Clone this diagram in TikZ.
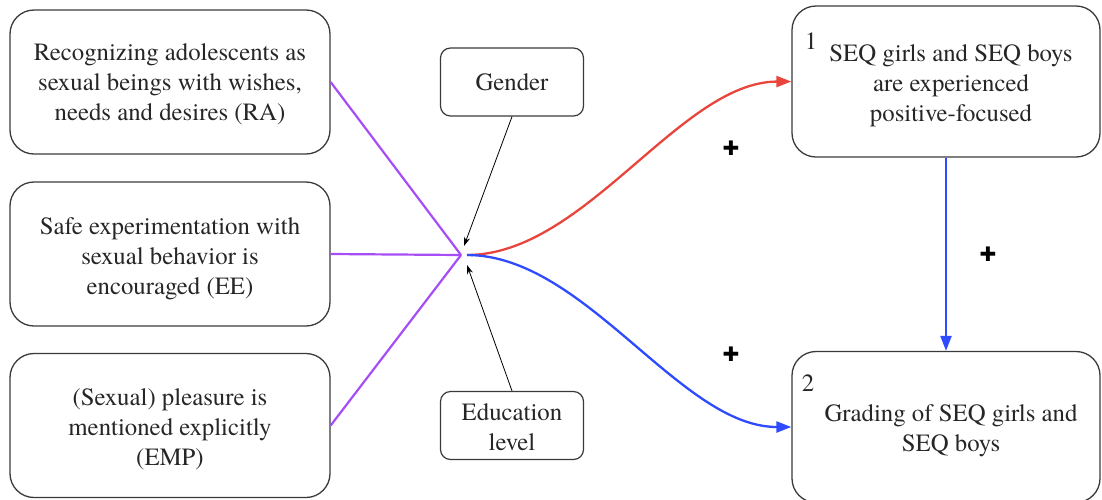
\documentclass[tikz,border=0pt]{standalone}
\usepackage{fontspec}
\newfontfamily\tnr{texgyretermes}[Extension=.otf, UprightFont=*-regular, BoldFont=*-bold]
\newfontfamily\plusfont{DejaVu Sans}
\usetikzlibrary{arrows.meta}
\definecolor{purp}{HTML}{A64DF5}
\definecolor{redc}{HTML}{E8453C}
\definecolor{bluec}{HTML}{2F4BFF}
\definecolor{edge}{HTML}{3A3A3A}
\tikzset{
  bigbox/.style={draw=edge, line width=1.3pt, rounded corners=24pt,
    minimum width=320pt, minimum height=144pt, inner sep=0pt},
  rbox/.style={draw=edge, line width=1.3pt, rounded corners=24pt,
    minimum width=308pt, minimum height=151pt, inner sep=0pt},
  smallbox/.style={draw=edge, line width=1.2pt, rounded corners=10pt,
    minimum width=143pt, minimum height=68pt, inner sep=0pt},
  txt/.style={font=\tnr\fontsize{24.8}{30}\selectfont, text=black!85, align=center, inner sep=0pt},
  plus/.style={font=\plusfont\fontsize{20}{20}\selectfont, inner sep=0pt},
  pline/.style={draw=purp, line width=2.2pt},
  thinarrow/.style={draw=black, line width=0.8pt, -{Stealth[length=9pt,width=6pt]}},
  colarrow/.style={line width=2.3pt, -{Triangle[length=15pt,width=11pt]}},
}
\begin{document}
\begin{tikzpicture}[x=1pt,y=-1pt]
\useasboundingbox (0,0) rectangle (1102,499);
\node[bigbox] (ra) at (170,82) {};
\node[txt] (ra-t) at ([yshift=-2pt]ra.center) {Recognizing adolescents as\\sexual beings with wishes,\\needs and desires (RA)};
\node[bigbox] (ee) at (170,254) {};
\node[txt] (ee-t) at ([yshift=-5pt]ee.center) {Safe experimentation with\\sexual behavior is\\encouraged (EE)};
\node[bigbox] (emp) at (170,425.5) {};
\node[txt] (emp-t) at ([yshift=-4pt]emp.center) {(Sexual) pleasure is\\mentioned explicitly\\(EMP)};
\node[smallbox] (gender) at (512,82) {};
\node[txt] (gender-t) at (gender.center) {Gender};
\node[smallbox] (edu) at (512,425.5) {};
\node[txt] (edu-t) at ([yshift=-2pt]edu.center) {Education\\level};
\coordinate (hub) at (461,255);
\coordinate (hubr) at (467,255);
\coordinate (gend) at (464,246);
\coordinate (eend) at (467,265);
\node[rbox] (seq) at (946,81.5) {};
\node[txt] (seq-t) at ([xshift=5pt,yshift=-4pt]seq.center) {SEQ girls and SEQ boys\\are experienced\\positive-focused};
\node[rbox] (grade) at (946,427) {};
\node[txt] (grade-t) at ([xshift=5pt,yshift=-4pt]grade.center) {Grading of SEQ girls and\\SEQ boys};
\node[txt] (n1) at (811,41) {1};
\node[txt] (n2) at (808,383) {2};
\draw[pline] (ra.east) -- (hub);
\draw[pline] (ee.east) -- (hub);
\draw[pline] (emp.east) -- (hub);
\draw[thinarrow] (gender.south) -- (gend);
\draw[thinarrow] (edu.north) -- (eend);
\draw[colarrow, redc] (hubr) .. controls (585,255) and (680,82) .. (seq.west);
\draw[colarrow, bluec] (hubr) .. controls (585,255) and (680,427) .. (grade.west);
\draw[colarrow, bluec] (seq.south) -- (grade.north);
\node[plus] (p1) at (731,148) {✚};
\node[plus] (p2) at (731,354) {✚};
\node[plus] (p3) at (988,254) {✚};
\end{tikzpicture}
\end{document}
